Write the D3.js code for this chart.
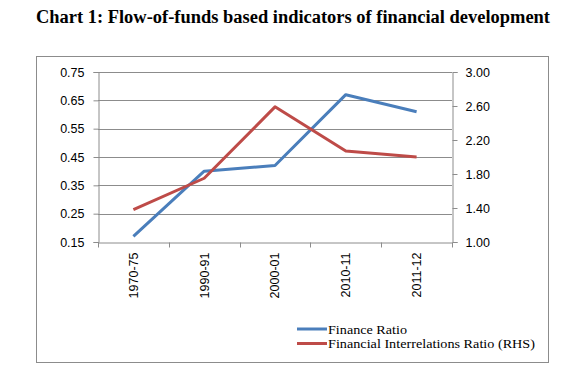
<!DOCTYPE html>
<html><head><meta charset="utf-8">
<script src="https://cdn.jsdelivr.net/npm/d3@7"></script>
<style>body{margin:0;background:#fff}svg{display:block}</style>
</head><body>
<svg id="c" width="575" height="374"></svg>
<script>
const title = "Chart 1: Flow-of-funds based indicators of financial development";
const categories = ["1970-75","1990-91","2000-01","2010-11","2011-12"];
const financeRatio = [0.17, 0.40, 0.42, 0.67, 0.61];
const firRatio = [1.38, 1.75, 2.59, 2.07, 2.00];
const leftTicks = [0.15,0.25,0.35,0.45,0.55,0.65,0.75];
const rightTicks = [1.00,1.40,1.80,2.20,2.60,3.00];
const seriesNames = ["Finance Ratio","Financial Interrelations Ratio (RHS)"];
const colors = ["#4a7ebb","#be4b48"];

const svg = d3.select("#c");
const L=98, R=452, T=72, B=242;

svg.append("text").attr("x",36).attr("y",23)
  .attr("font-family","Liberation Serif, Times New Roman, serif")
  .attr("font-weight","bold").attr("font-size",18).attr("fill","#000")
  .attr("textLength",514).attr("lengthAdjust","spacingAndGlyphs")
  .text(title);

// outer frame
svg.append("rect").attr("x",36.5).attr("y",56.5).attr("width",512).attr("height",306)
  .attr("fill","#fff").attr("stroke","#8c8c8c").attr("stroke-width",1);

const x = d3.scaleBand().domain(categories).range([L,R]);
const yL = d3.scaleLinear().domain([0.15,0.75]).range([B,T]);
const yR = d3.scaleLinear().domain([1.0,3.0]).range([B,T]);

// gridlines
svg.append("g").selectAll("line").data(leftTicks.slice(1)).join("line")
  .attr("x1",L).attr("x2",R).attr("y1",d=>Math.round(yL(d))+0.5).attr("y2",d=>Math.round(yL(d))+0.5)
  .attr("stroke","#8c8c8c").attr("stroke-width",1);

const tickFont = "Liberation Sans, Arial, sans-serif";
// left axis
const gL = svg.append("g").attr("transform",`translate(${L+0.5},0)`)
  .call(d3.axisLeft(yL).tickValues(leftTicks).tickFormat(d3.format(".2f")).tickSizeOuter(0).tickSize(5).tickPadding(9));
// right axis
const gR = svg.append("g").attr("transform",`translate(${R+0.5},0)`)
  .call(d3.axisRight(yR).tickValues(rightTicks).tickFormat(d3.format(".2f")).tickSizeOuter(0).tickSize(5).tickPadding(8));
// x axis
const gX = svg.append("g").attr("transform",`translate(0,${B+0.5})`)
  .call(d3.axisBottom(x).tickSize(0).tickSizeOuter(0));
gX.selectAll(".tick line").remove();
const bounds = categories.map(c=>x(c)).concat([R]);
gX.selectAll(".bt").data(bounds).join("line").attr("class","bt")
  .attr("x1",d=>Math.round(d)+0.5).attr("x2",d=>Math.round(d)+0.5).attr("y1",0).attr("y2",5)
  .attr("stroke","#8c8c8c");
gX.selectAll(".tick text").attr("transform","rotate(-90)")
  .attr("text-anchor","end").attr("x",-10).attr("y",0).attr("dy","0.35em");

[gL,gR,gX].forEach(g=>{
  g.selectAll(".domain").attr("stroke","#8c8c8c");
  g.selectAll(".tick line").attr("stroke","#8c8c8c");
  g.selectAll("text").attr("font-family",tickFont).attr("font-size",12.5).attr("fill","#000");
});

// lines
const cx = d=>x(d)+x.bandwidth()/2;
const lineL = d3.line().x((d,i)=>cx(categories[i])).y(d=>yL(d));
const lineR = d3.line().x((d,i)=>cx(categories[i])).y(d=>yR(d));
svg.append("path").datum(financeRatio).attr("d",lineL).attr("fill","none")
  .attr("stroke",colors[0]).attr("stroke-width",3).attr("stroke-linejoin","round");
svg.append("path").datum(firRatio).attr("d",lineR).attr("fill","none")
  .attr("stroke",colors[1]).attr("stroke-width",3).attr("stroke-linejoin","round");

// legend
const legendWidths = [79, 207];
const lg = svg.append("g");
seriesNames.forEach((n,i)=>{
  const yy = 329 + i*14.5;
  lg.append("line").attr("x1",297).attr("x2",327).attr("y1",yy).attr("y2",yy)
    .attr("stroke",colors[i]).attr("stroke-width",3);
  lg.append("text").attr("x",328).attr("y",yy).attr("dy","0.35em")
    .attr("font-family","Liberation Serif, Times New Roman, serif").attr("font-size",13)
    .attr("textLength",legendWidths[i]).attr("lengthAdjust","spacingAndGlyphs")
    .attr("fill","#000").text(n);
});
</script>
</body></html>
